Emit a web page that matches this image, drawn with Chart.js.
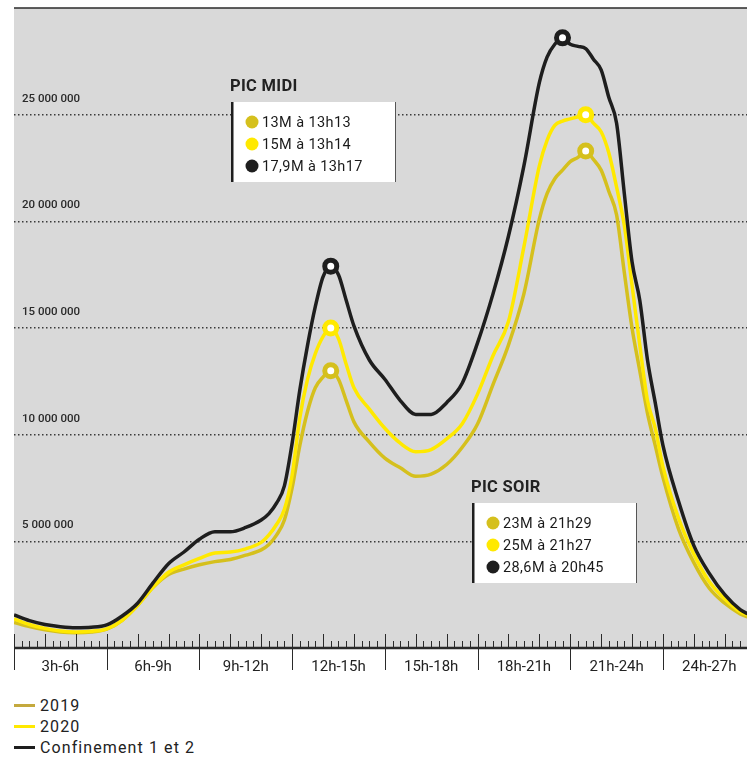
<!DOCTYPE html>
<html>
<head>
<meta charset="utf-8">
<script src="https://cdn.jsdelivr.net/npm/chart.js@4/dist/chart.umd.min.js"></script>
<style>
  html, body { margin: 0; padding: 0; background: #fff; }
  #wrap { position: relative; width: 747px; height: 757px; }
  #chart { position: absolute; left: 0; top: 0; }
  .legend { position: absolute; left: 14px; top: 695px; font-family: Roboto, sans-serif; font-size: 16px; color: #222; letter-spacing: 1.1px; }
  .legend div { height: 21px; display: flex; align-items: center; }
  .legend .swatch { display: inline-block; width: 21px; height: 3px; margin-right: 5px; }
</style>
</head>
<body>
<div id="wrap">
  <canvas id="chart" width="747" height="690"></canvas>
  <div class="legend" id="legend"></div>
</div>
<script>
// Hours of the day (3h -> 27h = 3h the next morning), values in millions of viewers
const hours = [3, 3.5, 4, 4.5, 5, 5.5, 6, 6.5, 7, 7.5, 8, 8.5, 9, 9.5, 10, 10.5, 11,
  11.25, 11.5, 11.75, 12, 12.25, 12.5, 12.75, 13, 13.25, 13.5, 13.75, 14,
  14.5, 15, 15.5, 16, 16.5, 17, 17.5, 18, 18.5, 19, 19.5, 20,
  20.25, 20.5, 20.75, 21, 21.25, 21.5, 21.75, 22, 22.25, 22.5, 22.75, 23, 23.25, 23.5, 23.75, 24,
  24.5, 25, 25.5, 26, 26.5, 26.75];

const values2019 = [1.2, 1.0, 0.85, 0.75, 0.72, 0.75, 0.88, 1.3, 2.0, 2.85, 3.45, 3.7, 3.9, 4.05, 4.15, 4.35, 4.6,
  4.85, 5.3, 6.0, 7.5, 9.5, 11.1, 12.2, 12.7, 13.0, 12.6, 11.6, 10.6,
  9.65, 8.9, 8.45, 8.05, 8.15, 8.6, 9.4, 10.5, 12.35, 14.2, 16.6, 20.1,
  21.3, 22.0, 22.4, 22.8, 23.0, 23.3, 22.9, 22.4, 21.4, 20.3, 17.6, 15.0, 13.0, 11.0, 9.5, 8.0,
  5.6, 4.0, 2.8, 2.1, 1.6, 1.45];

const values2020 = [1.36, 1.1, 0.92, 0.8, 0.75, 0.78, 0.9, 1.3, 2.0, 2.85, 3.55, 3.9, 4.2, 4.45, 4.5, 4.65, 4.95,
  5.3, 5.8, 6.5, 8.1, 10.8, 12.6, 13.8, 14.6, 15.0, 14.5, 13.3, 12.2,
  11.2, 10.3, 9.6, 9.2, 9.3, 9.8, 10.5, 11.9, 13.7, 15.3, 18.8, 22.6,
  23.8, 24.5, 24.7, 24.8, 24.9, 25.0, 24.6, 24.2, 23.2, 21.6, 19.8, 17.0, 14.2, 11.6, 10.3, 8.5,
  6.1, 4.4, 3.1, 2.3, 1.7, 1.55];

const valuesConf = [1.55, 1.28, 1.1, 1.0, 0.95, 0.97, 1.08, 1.5, 2.1, 3.05, 3.95, 4.5, 5.1, 5.45, 5.45, 5.65, 6.0,
  6.3, 6.8, 7.6, 9.6, 12.1, 14.2, 16.0, 17.4, 17.9, 17.5, 16.3, 15.1,
  13.5, 12.6, 11.6, 10.95, 10.95, 11.5, 12.4, 14.3, 16.6, 19.3, 22.6, 26.5,
  27.7, 28.3, 28.6, 28.3, 28.2, 28.1, 27.6, 27.1, 25.8, 24.6, 21.3, 18.1, 16.3, 13.5, 11.5, 9.5,
  6.9, 4.8, 3.5, 2.5, 1.8, 1.6];

const categories = ['3h-6h', '6h-9h', '9h-12h', '12h-15h', '15h-18h', '18h-21h', '21h-24h', '24h-27h'];
const yTickValues = [5, 10, 15, 20, 25];

const seriesNames = ['2019', '2020', 'Confinement 1 et 2'];
const midiLabels = ['13M à 13h13', '15M à 13h14', '17,9M à 13h17'];
const soirLabels = ['23M à 21h29', '25M à 21h27', '28,6M à 20h45'];

const colors = ['#d5c01d', '#ffe900', '#1e1e1e'];
const legendColors = ['#c4a93e', '#ffe900', '#1e1e1e'];
const FONT = 'Roboto, "Noto Sans", sans-serif';

// index of the highest value between two hours
function peakIndex(values, from, to) {
  let best = -1;
  hours.forEach((h, i) => {
    if (h >= from && h <= to && (best < 0 || values[i] > values[best])) best = i;
  });
  return best;
}

function makeDataset(label, values, color, order) {
  const peaks = [peakIndex(values, 11, 16), peakIndex(values, 19, 24)];
  return {
    label: label,
    data: hours.map((h, i) => ({ x: h, y: values[i] })),
    borderColor: color,
    borderWidth: 3.5,
    cubicInterpolationMode: 'monotone',
    pointRadius: ctx => peaks.includes(ctx.dataIndex) ? 6 : 0,
    pointHoverRadius: ctx => peaks.includes(ctx.dataIndex) ? 6 : 0,
    pointBorderWidth: 5,
    pointBorderColor: color,
    pointBackgroundColor: '#fff',
    order: order
  };
}

function formatMillions(v) {
  return String(v * 1000000).replace(/\B(?=(\d{3})+(?!\d))/g, ' ');
}

// Gray plot background, top rule, axis line and the quarter-hour ticks
const axisDeco = {
  id: 'axisDeco',
  beforeDraw(chart) {
    const { ctx, chartArea: a } = chart;
    ctx.save();
    ctx.fillStyle = '#d9d9d9';
    ctx.fillRect(a.left, a.top, a.right - a.left, a.bottom - a.top);
    ctx.restore();
  },
  afterDatasetsDraw(chart) {
    const { ctx, chartArea: a, scales: { x } } = chart;
    const line = (x1, y1, x2, y2) => {
      ctx.beginPath(); ctx.moveTo(x1, y1); ctx.lineTo(x2, y2); ctx.stroke();
    };
    ctx.save();
    ctx.strokeStyle = '#2a2a2a';
    ctx.lineWidth = 1.5;
    line(a.left, a.top, a.right, a.top);
    ctx.lineWidth = 1;
    for (let q = Math.ceil(x.min * 4); q <= x.max * 4; q++) {
      const px = Math.round(x.getPixelForValue(q / 4)) + 0.5;
      line(px, a.bottom, px, a.bottom - (q % 4 === 0 ? 14 : 7));
      if (q % 12 === 0) line(px, a.bottom, px, a.bottom + 22);
    }
    ctx.lineWidth = 2.5;
    line(a.left, a.bottom, a.right, a.bottom);
    ctx.restore();
  }
};

// "PIC MIDI" / "PIC SOIR" boxes, anchored in data units (hour, millions)
const annotations = [
  { title: 'PIC MIDI', hour: 10.02, top: 25.6, lines: midiLabels },
  { title: 'PIC SOIR', hour: 17.82, top: 6.8, lines: soirLabels }
];

const peakBoxes = {
  id: 'peakBoxes',
  afterDraw(chart) {
    const { ctx, scales: { x, y } } = chart;
    ctx.save();
    annotations.forEach(a => {
      const left = Math.round(x.getPixelForValue(a.hour));
      const top = Math.round(y.getPixelForValue(a.top));
      const w = 165, h = 80;
      ctx.fillStyle = '#fff';
      ctx.fillRect(left, top, w, h);
      ctx.fillStyle = '#1e1e1e';
      ctx.fillRect(left, top, 2.5, h);
      ctx.fillStyle = '#555';
      ctx.fillRect(left + w - 1, top, 1, h);

      ctx.letterSpacing = '0.3px';
      ctx.fillStyle = '#222';
      ctx.font = 'bold 16.5px ' + FONT;
      ctx.textBaseline = 'middle';
      ctx.textAlign = 'left';
      ctx.fillText(a.title, left - 1, top - 15);

      ctx.letterSpacing = '0.4px';
      ctx.font = '14.5px ' + FONT;
      a.lines.forEach((t, i) => {
        const cy = top + 20 + i * 22;
        ctx.beginPath();
        ctx.arc(left + 21, cy, 6.5, 0, Math.PI * 2);
        ctx.fillStyle = colors[i];
        ctx.fill();
        ctx.fillStyle = '#1a1a1a';
        ctx.fillText(t, left + 31, cy + 1);
      });
    });
    ctx.restore();
  }
};

new Chart(document.getElementById('chart'), {
  type: 'line',
  data: {
    datasets: [
      makeDataset(seriesNames[0], values2019, colors[0], 3),
      makeDataset(seriesNames[1], values2020, colors[1], 2),
      makeDataset(seriesNames[2], valuesConf, colors[2], 1)
    ]
  },
  options: {
    responsive: false,
    animation: false,
    layout: { padding: { left: 14, top: 8, right: 0, bottom: 0 } },
    plugins: { legend: { display: false }, tooltip: { enabled: false } },
    scales: {
      x: {
        type: 'linear',
        min: 3,
        max: 26.72,
        afterFit: s => { s.height = 42; s.paddingLeft = 0; s.paddingRight = 0; },
        afterBuildTicks: s => { s.ticks = categories.map((c, i) => ({ value: 4.5 + i * 3 })); },
        grid: { display: false, drawTicks: false },
        border: { display: false },
        ticks: {
          autoSkip: false,
          maxRotation: 0,
          minRotation: 0,
          padding: 10,
          color: '#222',
          font: { family: FONT, size: 15 },
          callback: (v, i) => categories[i]
        }
      },
      y: {
        min: 0,
        max: 30,
        afterFit: s => { s.width = 0; s.paddingTop = 0; s.paddingBottom = 0; },
        afterBuildTicks: s => { s.ticks = yTickValues.map(v => ({ value: v })); },
        grid: { color: '#3a3a3a', lineWidth: 1.5, drawTicks: false, borderDash: [1.5, 2.5] },
        border: { display: false, dash: [1.5, 2.5] },
        ticks: {
          mirror: true,
          padding: 8,
          labelOffset: -16,
          color: '#2a2a2a',
          font: { family: FONT, size: 11.5, weight: '500' },
          callback: v => formatMillions(v)
        }
      }
    }
  },
  plugins: [axisDeco, peakBoxes]
});

// Legend below the chart
const legend = document.getElementById('legend');
seriesNames.forEach((name, i) => {
  const row = document.createElement('div');
  row.innerHTML = `<span class="swatch" style="background:${legendColors[i]}"></span>${name}`;
  legend.appendChild(row);
});
</script>
</body>
</html>
